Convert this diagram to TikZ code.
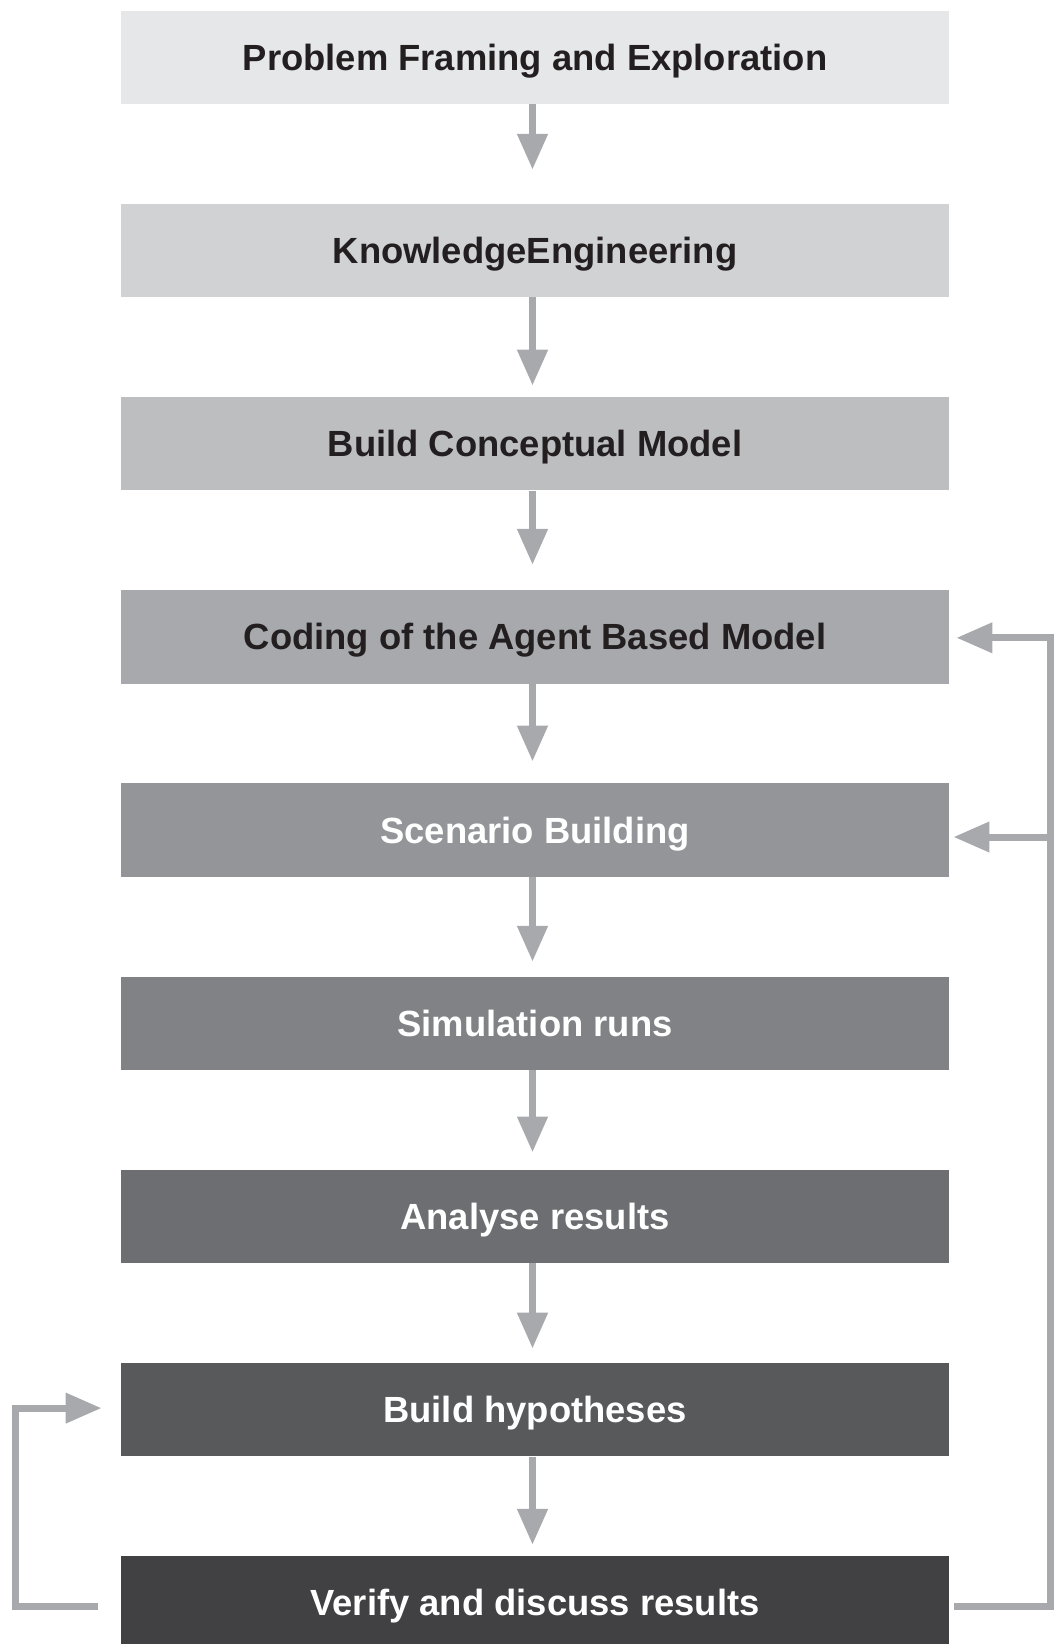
\documentclass[tikz,border=0pt]{standalone}
\usepackage{fontspec}
\setmainfont{Liberation Sans}
\usetikzlibrary{arrows.meta,calc}

% grey ramp for the stages
\definecolor{gA}{HTML}{E6E7E8}
\definecolor{gB}{HTML}{D1D2D4}
\definecolor{gC}{HTML}{BCBEC0}
\definecolor{gD}{HTML}{A7A9AC}
\definecolor{gE}{HTML}{939598}
\definecolor{gF}{HTML}{808285}
\definecolor{gG}{HTML}{6D6E71}
\definecolor{gH}{HTML}{58595B}
\definecolor{gI}{HTML}{414042}
\definecolor{inkdark}{HTML}{231F20}
\definecolor{linkgrey}{HTML}{A7A9AC}

\tikzset{
  stage/.style={minimum width=828.4pt, minimum height=93.4pt, inner sep=0pt,
    font=\fontsize{36.4}{40}\selectfont\bfseries,
    text height=26pt, text depth=0pt, anchor=north west},
  darkink/.style={text=inkdark},
  lightink/.style={text=white},
  flow/.style={draw=linkgrey, line width=7.6pt,
    -{Triangle[width=29pt,length=36pt]}},
  loop/.style={draw=linkgrey, line width=7pt, line join=miter,
    -{Triangle[width=29pt,length=36pt]}},
}

\begin{document}
\begin{tikzpicture}[x=1pt,y=-1pt]
\useasboundingbox (0,0) rectangle (1054,1644);

% stages
\node[stage, fill=gA, darkink]  (b1) at (120.6,10.3)   {Problem Framing and Exploration};
\node[stage, fill=gB, darkink]  (b2) at (120.6,203.5)  {KnowledgeEngineering};
\node[stage, fill=gC, darkink]  (b3) at (120.6,396.7)  {Build Conceptual Model};
\node[stage, fill=gD, darkink]  (b4) at (120.6,589.9)  {Coding of the Agent Based Model};
\node[stage, fill=gE, lightink] (b5) at (120.6,783.1)  {Scenario Building};
\node[stage, fill=gF, lightink] (b6) at (120.6,976.3)  {Simulation runs};
\node[stage, fill=gG, lightink] (b7) at (120.6,1169.5) {Analyse results};
\node[stage, fill=gH, lightink] (b8) at (120.6,1362.7) {Build hypotheses};
\node[stage, fill=gI, lightink] (b9) at (120.6,1555.9) {Verify and discuss results};

% downward flow between stages
\draw[flow, shorten >=33.7pt] ([xshift=-2.5pt]b1.south) -- ([xshift=-2.5pt]b2.north);
\draw[flow, shorten >=11pt]   ([xshift=-2.5pt]b2.south) -- ([xshift=-2.5pt]b3.north);
\draw[flow, shorten >=25pt]   ([xshift=-2.5pt]b3.south) -- ([xshift=-2.5pt]b4.north);
\draw[flow, shorten >=21.5pt] ([xshift=-2.5pt]b4.south) -- ([xshift=-2.5pt]b5.north);
\draw[flow, shorten >=14.5pt] ([xshift=-2.5pt]b5.south) -- ([xshift=-2.5pt]b6.north);
\draw[flow, shorten >=17pt]   ([xshift=-2.5pt]b6.south) -- ([xshift=-2.5pt]b7.north);
\draw[flow, shorten >=14pt]   ([xshift=-2.5pt]b7.south) -- ([xshift=-2.5pt]b8.north);
\draw[flow, shorten >=11pt]   ([xshift=-2.5pt]b8.south) -- ([xshift=-2.5pt]b9.north);

% feedback on the right: back to coding and to scenario building
\draw[loop] ([xshift=5pt,yshift=-4pt]b9.east) -| ([xshift=101pt,yshift=-1pt]b4.east) -- ([xshift=7pt,yshift=-1pt]b4.east);
\draw[loop] ([xshift=101pt,yshift=-7pt]b5.east) -- ([xshift=4pt,yshift=-7pt]b5.east);

% feedback on the left: back to building hypotheses
\draw[loop] ([xshift=-23pt,yshift=-4pt]b9.west) -| ([xshift=-105.6pt,yshift=1.5pt]b8.west) -- ([xshift=-19pt,yshift=1.5pt]b8.west);
\end{tikzpicture}
\end{document}
